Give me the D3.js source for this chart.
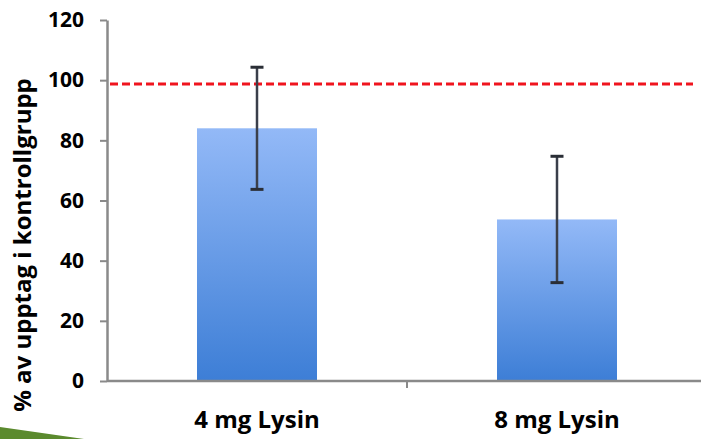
<!DOCTYPE html>
<html><head><meta charset="utf-8">
<script src="https://cdn.jsdelivr.net/npm/d3@7"></script>
<style>body{margin:0;background:#fff}svg{display:block}</style>
</head><body>
<script>
const categories = ["4 mg Lysin", "8 mg Lysin"];
const values = [84, 53.7];
const errors = [20.3, 21];
const referenceValue = 98.7;
const yTicks = [0, 20, 40, 60, 80, 100, 120];
const yTitle = "% av upptag i kontrollgrupp";

const W = 701, H = 439;
const svg = d3.select("body").append("svg").attr("width", W).attr("height", H);
const font = "'Open Sans', sans-serif";

const defs = svg.append("defs");
const grad = defs.append("linearGradient").attr("id", "bg").attr("x1", 0).attr("y1", 0).attr("x2", 0).attr("y2", 1);
grad.append("stop").attr("offset", "0%").attr("stop-color", "#93b9f7");
grad.append("stop").attr("offset", "100%").attr("stop-color", "#3d7ed6");

const x = d3.scaleBand().domain(categories).range([107, 707]).paddingInner(0.6).paddingOuter(0.3);
const y = d3.scaleLinear().domain([0, 120]).range([381, 20]);

// green decoration bottom-left
svg.append("path").attr("d", "M0,427 L84,439 L0,439 Z").attr("fill", "#5b8a2e");

// bars
svg.selectAll("rect.bar").data(categories).join("rect").attr("class", "bar")
  .attr("x", d => x(d)).attr("width", x.bandwidth())
  .attr("y", (d, i) => y(values[i])).attr("height", (d, i) => y(0) - y(values[i]))
  .attr("fill", "url(#bg)");

// reference line
svg.append("line").attr("x1", 110).attr("x2", 693)
  .attr("y1", y(referenceValue)).attr("y2", y(referenceValue))
  .attr("stroke", "#f0141e").attr("stroke-width", 3).attr("stroke-dasharray", "8,4");

// error bars
const eg = svg.selectAll("g.err").data(categories).join("g").attr("class", "err");
eg.append("line").attr("x1", d => x(d) + x.bandwidth() / 2).attr("x2", d => x(d) + x.bandwidth() / 2)
  .attr("y1", (d, i) => y(values[i] + errors[i])).attr("y2", (d, i) => y(values[i] - errors[i]))
  .attr("stroke", "#3a3f4a").attr("stroke-width", 2.5);
["+", "-"].forEach(s => {
  eg.append("line").attr("x1", d => x(d) + x.bandwidth() / 2 - 6.5).attr("x2", d => x(d) + x.bandwidth() / 2 + 6.5)
    .attr("y1", (d, i) => y(values[i] + (s === "+" ? errors[i] : -errors[i])))
    .attr("y2", (d, i) => y(values[i] + (s === "+" ? errors[i] : -errors[i])))
    .attr("stroke", "#2a2e36").attr("stroke-width", 3);
});

// y axis
const yAxis = svg.append("g").attr("transform", "translate(107,0)")
  .call(d3.axisLeft(y).tickValues(yTicks).tickSize(7).tickSizeOuter(0).tickPadding(16));
yAxis.select(".domain").attr("stroke", "#8a8a8a").attr("stroke-width", 2.5);
yAxis.selectAll(".tick line").attr("stroke", "#8a8a8a").attr("stroke-width", 2);
yAxis.selectAll(".tick text").attr("font-family", font).attr("font-weight", "bold")
  .attr("font-size", 21).attr("fill", "#000");

// x axis
const xAxis = svg.append("g").attr("transform", `translate(0,${y(0)})`)
  .call(d3.axisBottom(x).tickSize(0).tickSizeOuter(0).tickPadding(30));
xAxis.select(".domain").attr("stroke", "#8a8a8a").attr("stroke-width", 2.5).attr("d", `M107,0H701`);
xAxis.selectAll(".tick text").attr("font-family", font).attr("font-weight", "bold")
  .attr("font-size", 24).attr("fill", "#000");
// category boundary tick
const bounds = [x.range()[0] + x.step()];
xAxis.selectAll("line.bound").data(bounds).join("line").attr("class", "bound")
  .attr("x1", d => d).attr("x2", d => d).attr("y1", 0).attr("y2", 7)
  .attr("stroke", "#8a8a8a").attr("stroke-width", 2);

// y title
svg.append("text").attr("transform", "translate(31,245) rotate(-90)")
  .attr("text-anchor", "middle").attr("font-family", font).attr("font-weight", "bold")
  .attr("font-size", 24).attr("fill", "#000").text(yTitle);
</script>
</body></html>
